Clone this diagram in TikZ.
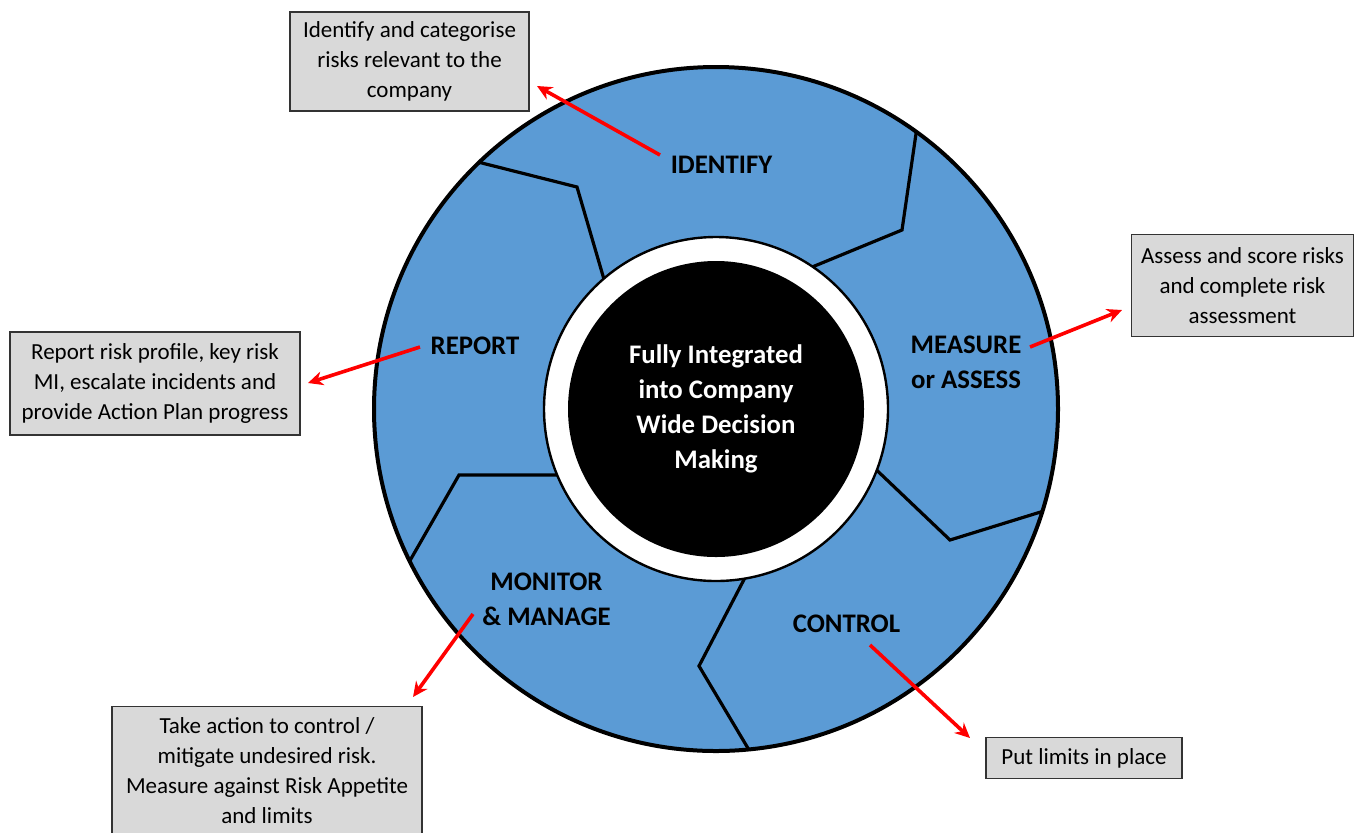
\documentclass[tikz,border=0pt]{standalone}
\usepackage{fontspec}
\setmainfont{Carlito}
\usetikzlibrary{arrows.meta}

\definecolor{wheelblue}{HTML}{5B9BD5}
\definecolor{boxgrey}{HTML}{D9D9D9}

\tikzset{
  phase/.style={font=\fontsize{13.4}{17.5}\selectfont\bfseries, align=center, inner sep=0pt},
  notebox/.style={draw=black!80, line width=0.7pt, fill=boxgrey, align=center,
    font=\fontsize{11.5}{15}\selectfont, inner sep=0pt},
  riskarrow/.style={draw=red, line width=1.8pt, -{Stealth[length=7.5pt, width=7pt]}},
  divider/.style={draw=black, line width=1.6pt}
}

\begin{document}
\begin{tikzpicture}[x=0.5pt, y=-0.5pt]
\useasboundingbox (0,0) rectangle (1354,832);

\fill[wheelblue] (716,409) circle [radius=171pt];
\begin{scope}
\clip (716,409) circle [radius=171pt];
\path[divider] (470,160) -- (577,187) -- (608,293);
\path[divider] (918,120) -- (902,230) -- (800,272);
\path[divider] (1060,506) -- (950,540) -- (866,460);
\path[divider] (755,760) -- (699,666) -- (750,568);
\path[divider] (400,578) -- (459,475) -- (570,475);
\end{scope}
\draw[line width=2pt] (716,409) circle [radius=171pt];

\node (ring) at (716,409) [circle, draw=black, line width=1.2pt, fill=white,
  minimum size=172pt, inner sep=0pt] {};
\node (core) at (716,409) [circle, fill=black, minimum size=148pt, inner sep=0pt,
  text=white, align=center, font=\fontsize{13.4}{17.5}\selectfont\bfseries]
  {Fully Integrated\\into Company\\Wide Decision\\Making};

% phase labels
\node (identify) at (721.5,165) [phase] {IDENTIFY};
\node (measure)  at (966,362.5) [phase] {MEASURE\\or ASSESS};
\node (control)  at (846.5,624) [phase] {CONTROL};
\node (monitor)  at (546.5,599) [phase] {MONITOR\\\& MANAGE};
\node (report)   at (475,346)   [phase] {REPORT};

% notes
\node (idbox) at (409.5,61.5) [notebox, minimum width=119.5pt, minimum height=49.5pt]
  {Identify and categorise\\risks relevant to the\\company};
\node (assessbox) at (1242.5,285.5) [notebox, minimum width=111pt, minimum height=51pt]
  {Assess and score risks\\and complete risk\\assessment};
\node (limitsbox) at (1084,758) [notebox, minimum width=98pt, minimum height=20.5pt]
  {Put limits in place};
\node (actionbox) at (267,771) [notebox, minimum width=155pt, minimum height=64.5pt]
  {Take action to control /\\mitigate undesired risk.\\Measure against Risk Appetite\\and limits};
\node (reportbox) at (155,383.5) [notebox, minimum width=145pt, minimum height=51.5pt]
  {Report risk profile, key risk\\MI, escalate incidents and\\provide Action Plan progress};

\coordinate (idfrom) at (660,155);   \coordinate (idto) at (537,86);
\coordinate (msfrom) at (1030,347);  \coordinate (msto) at (1122,310);
\coordinate (ctfrom) at (870,645);   \coordinate (ctto) at (970,738);
\coordinate (mnfrom) at (473,614);   \coordinate (mnto) at (413,697);
\coordinate (rpfrom) at (420,347);   \coordinate (rpto) at (308,383);
\path (idfrom) edge[riskarrow] (idto);
\path (msfrom) edge[riskarrow] (msto);
\path (ctfrom) edge[riskarrow] (ctto);
\path (mnfrom) edge[riskarrow] (mnto);
\path (rpfrom) edge[riskarrow] (rpto);
\end{tikzpicture}
\end{document}
